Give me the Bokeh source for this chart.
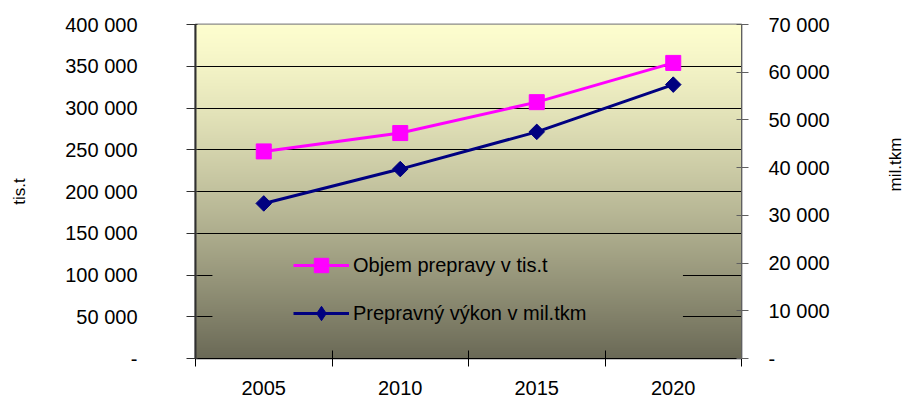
import numpy as np
from bokeh.plotting import figure
from bokeh.models import (Range1d, LinearAxis, FixedTicker, Legend, LegendItem)
from bokeh.embed import file_html
from bokeh.resources import INLINE

# ---- data ----
years = ["2005", "2010", "2015", "2020"]
objem = [248000, 270000, 307000, 354000]      # Objem prepravy v tis.t (left axis)
vykon = [32500, 39700, 47500, 57400]          # Prepravný výkon v mil.tkm (right axis)
left_ticks = [0, 50000, 100000, 150000, 200000, 250000, 300000, 350000, 400000]
right_ticks = [0, 10000, 20000, 30000, 40000, 50000, 60000, 70000]
series_names = ["Objem prepravy v tis.t", "Prepravný výkon v mil.tkm"]
axis_titles = ["tis.t", "mil.tkm"]


def fmt(v):
    return "-" if v == 0 else f"{v:,}".replace(",", " ")


FONT = "Liberation Sans"
xs = [i + 0.5 for i in range(len(years))]
YMAX = left_ticks[-1]

p = figure(width=917, height=400, output_backend="svg", toolbar_location=None,
           x_range=Range1d(0, len(years)), y_range=Range1d(0, YMAX),
           min_border_left=195, min_border_right=172, min_border_top=24,
           min_border_bottom=42)
p.extra_y_ranges = {"right": Range1d(0, right_ticks[-1])}
p.background_fill_color = "white"
p.border_fill_color = "white"
p.outline_line_color = "#8a8a8a"
p.outline_line_width = 2

# ---- gradient background ----
TOP = np.array([253, 253, 206], dtype=float)
BOT = np.array([106, 105, 86], dtype=float)


def grad_color(yv):
    t = 1.0 - yv / YMAX
    return TOP + (BOT - TOP) * (t ** 1.3)


def grad_image(y0, y1, rows):
    img = np.empty((rows, 1), dtype=np.uint32)
    view = img.view(dtype=np.uint8).reshape((rows, 1, 4))
    for i in range(rows):
        yc = y0 + (i + 0.5) * (y1 - y0) / rows
        c = grad_color(yc)
        view[i, 0, 0] = int(round(c[0]))
        view[i, 0, 1] = int(round(c[1]))
        view[i, 0, 2] = int(round(c[2]))
        view[i, 0, 3] = 255
    return img


p.image_rgba(image=[grad_image(0, YMAX, 334)], x=0, y=0, dw=len(years), dh=YMAX,
             level="image")
# legend box background (hides gridlines behind the legend)
ly0, ly1 = 25000, 140000
p.image_rgba(image=[grad_image(ly0, ly1, 96)], x=0.124, y=ly0, dw=3.447, dh=ly1 - ly0,
             level="guide")

# ---- grid ----
p.xgrid.visible = False
p.ygrid.ticker = FixedTicker(ticks=left_ticks)
p.ygrid.grid_line_color = "black"
p.ygrid.grid_line_width = 1

# ---- series ----
l1 = p.line(xs, objem, line_color="#FF00FF", line_width=3)
m1 = p.scatter(xs, objem, marker="square", size=15, fill_color="#FF00FF",
               line_color="#FF00FF")
l2 = p.line(xs, vykon, line_color="#000080", line_width=3, y_range_name="right")
# diamond (used for the legend glyph), hidden under the rotated square marker
m2d = p.scatter(xs, vykon, marker="diamond", size=14, fill_color="#000080",
                line_color="#000080", y_range_name="right")
m2 = p.scatter(xs, vykon, marker="square", angle=np.pi / 4, size=11, fill_color="#000080",
               line_color="#000080", y_range_name="right")

# ---- axes ----
xa = p.xaxis[0]
xa.ticker = FixedTicker(ticks=xs, minor_ticks=list(range(len(years) + 1)))
xa.major_label_overrides = {x: y for x, y in zip(xs, years)}
xa.major_tick_in = 0
xa.major_tick_out = 0
xa.minor_tick_in = 8
xa.minor_tick_out = 8
xa.minor_tick_line_color = "black"
xa.axis_line_color = "black"
xa.major_label_standoff = 14
xa.major_label_text_font = FONT
xa.major_label_text_font_size = "20px"
xa.major_label_text_color = "black"

ya = p.yaxis[0]
ya.ticker = FixedTicker(ticks=left_ticks)
ya.major_label_overrides = {v: fmt(v) for v in left_ticks}
ya.major_tick_in = 2
ya.major_tick_out = 9
ya.minor_tick_line_color = None
ya.axis_line_color = "#303030"
ya.axis_line_width = 2
ya.major_tick_line_color = "#303030"
ya.major_label_standoff = 49
ya.major_label_text_font = FONT
ya.major_label_text_font_size = "20px"
ya.major_label_text_color = "black"
ya.axis_label = axis_titles[0]
ya.axis_label_standoff = 33
ya.axis_label_text_font = FONT
ya.axis_label_text_font_size = "17px"
ya.axis_label_text_font_style = "normal"
ya.axis_label_text_color = "black"

ra = LinearAxis(y_range_name="right", ticker=FixedTicker(ticks=right_ticks))
ra.major_label_overrides = {v: fmt(v) for v in right_ticks}
ra.major_tick_in = 5
ra.major_tick_out = 7
ra.minor_tick_line_color = None
ra.axis_line_color = "#606060"
ra.major_tick_line_color = "#606060"
ra.major_label_standoff = 20
ra.major_label_text_font = FONT
ra.major_label_text_font_size = "20px"
ra.major_label_text_color = "black"
ra.axis_label = axis_titles[1]
ra.axis_label_standoff = 63
ra.axis_label_text_font = FONT
ra.axis_label_text_font_size = "17px"
ra.axis_label_text_font_style = "normal"
ra.axis_label_text_color = "black"
try:
    ra.axis_label_orientation = np.pi / 2
except Exception:
    pass
p.add_layout(ra, "right")

# ---- legend ----
lg = Legend(items=[LegendItem(label=series_names[0], renderers=[l1, m1]),
                   LegendItem(label=series_names[1], renderers=[l2, m2d])])
lg.location = (98, 27)
lg.background_fill_alpha = 0
lg.border_line_color = None
lg.padding = 0
lg.margin = 0
lg.spacing = 12
lg.glyph_width = 56
lg.glyph_height = 36
lg.label_height = 20
lg.label_standoff = 4
lg.label_text_font = FONT
lg.label_text_font_size = "20px"
lg.label_text_color = "black"
p.add_layout(lg, "center")

open("out.html", "w").write(file_html(p, INLINE))
